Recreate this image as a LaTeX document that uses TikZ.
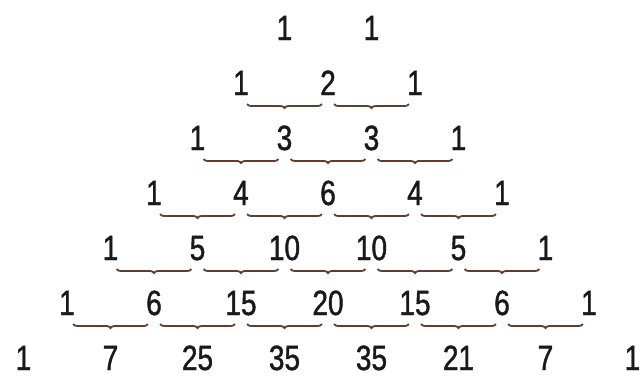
\documentclass[tikz,border=0pt]{standalone}
\usepackage{fontspec}
\setmainfont{Liberation Sans}[FakeStretch=0.8,FakeBold=1.2]
\usetikzlibrary{calc,decorations.pathreplacing}
\definecolor{ink}{RGB}{25,25,25}
\definecolor{rust}{RGB}{95,62,48}
\tikzset{
  num/.style={anchor=base,inner sep=0pt,text=ink,font=\fontsize{35}{35}\selectfont},
  brc/.style={draw=rust,line width=1.8pt,decorate,decoration={brace,mirror,amplitude=4pt}},
}

\begin{document}
\begin{tikzpicture}[x=1pt,y=-1pt]
\useasboundingbox (0,0) rectangle (641,389);
% rows of the triangle, as printed
\foreach \row [count=\n] in {{1,1},{1,2,1},{1,3,3,1},{1,4,6,4,1},{1,5,10,10,5,1},
    {1,6,15,20,15,6,1},{1,7,25,35,35,21,7,1}}{
  \foreach \v [count=\k] in \row
    \node[num] (p\n\k) at ({328+87*(\k-1-\n/2)},{40+55*(\n-1)}) {\v};
}
% braces under each pair
\foreach \n in {2,...,6}{
  \foreach \k [evaluate=\k as \j using int(\k+1)] in {1,...,\n}
    \draw[brc] ($(p\n\k.base)!0.07!(p\n\j.base)+(0,9)$) -- ($(p\n\k.base)!0.93!(p\n\j.base)+(0,9)$);
}
\end{tikzpicture}
\end{document}
